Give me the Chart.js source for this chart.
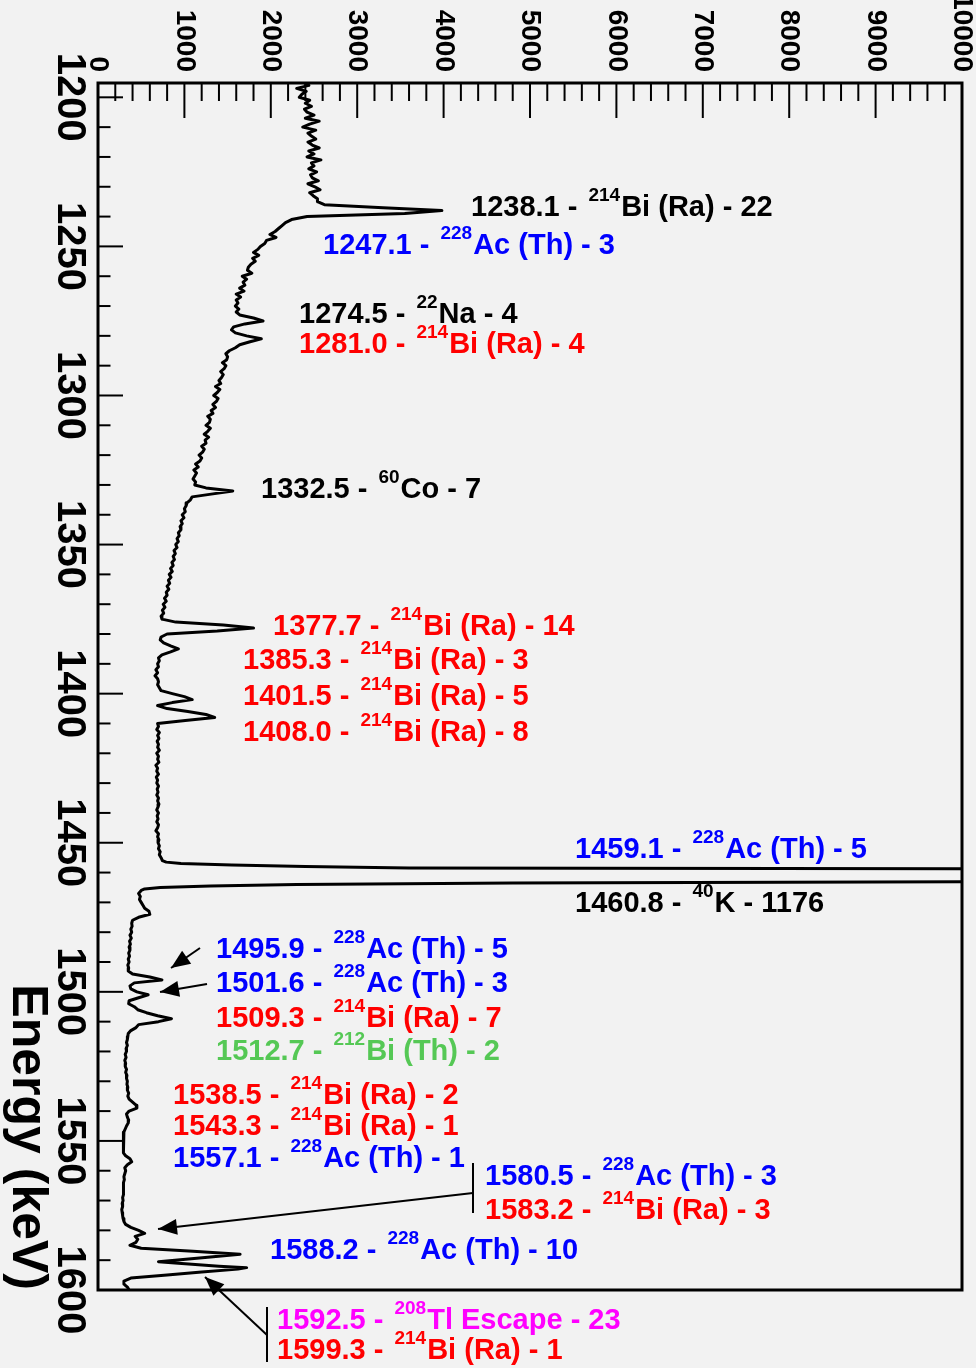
<!DOCTYPE html>
<html>
<head>
<meta charset="utf-8">
<script src="https://cdn.jsdelivr.net/npm/chart.js@4.4.0/dist/chart.umd.min.js"></script>
<style>
html,body{margin:0;padding:0;background:#f2f2f2;}
canvas{display:block;}
</style>
</head>
<body>
<canvas id="c" width="976" height="1368"></canvas>
<script>
// ---------------- DATA ----------------
const energy = [
1195,1196,1197,1198,1199,1200,1201,1202,1203,1204,
1205,1206,1207,1208,1209,1210,1211,1212,1213,1214,
1215,1216,1217,1218,1219,1220,1221,1222,1223,1224,
1225,1226,1227,1228,1229,1230,1231,1232,1233,1234,
1235,1236,1237,1238,1239,1240,1241,1242,1243,1244,
1245,1246,1247,1248,1249,1250,1251,1252,1253,1254,
1255,1256,1257,1258,1259,1260,1261,1262,1263,1264,
1265,1266,1267,1268,1269,1270,1271,1272,1273,1274,
1275,1276,1277,1278,1279,1280,1281,1282,1283,1284,
1285,1286,1287,1288,1289,1290,1291,1292,1293,1294,
1295,1296,1297,1298,1299,1300,1301,1302,1303,1304,
1305,1306,1307,1308,1309,1310,1311,1312,1313,1314,
1315,1316,1317,1318,1319,1320,1321,1322,1323,1324,
1325,1326,1327,1328,1329,1330,1331,1332,1333,1334,
1335,1336,1337,1338,1339,1340,1341,1342,1343,1344,
1345,1346,1347,1348,1349,1350,1351,1352,1353,1354,
1355,1356,1357,1358,1359,1360,1361,1362,1363,1364,
1365,1366,1367,1368,1369,1370,1371,1372,1373,1374,
1375,1376,1377,1378,1379,1380,1381,1382,1383,1384,
1385,1386,1387,1388,1389,1390,1391,1392,1393,1394,
1395,1396,1397,1398,1399,1400,1401,1402,1403,1404,
1405,1406,1407,1408,1409,1410,1411,1412,1413,1414,
1415,1416,1417,1418,1419,1420,1421,1422,1423,1424,
1425,1426,1427,1428,1429,1430,1431,1432,1433,1434,
1435,1436,1437,1438,1439,1440,1441,1442,1443,1444,
1445,1446,1447,1448,1449,1450,1451,1452,1453,1454,
1455,1456,1456.5,1457,1457.5,1458,1458.5,1459,1459.5,1460,
1460.5,1461,1461.5,1462,1462.5,1463,1463.5,1464,1464.5,1465,
1465.5,1466,1467,1468,1469,1470,1471,1472,1473,1474,
1475,1476,1477,1478,1479,1480,1481,1482,1483,1484,
1485,1486,1487,1488,1489,1490,1491,1492,1493,1494,
1495,1496,1497,1498,1499,1500,1501,1502,1503,1504,
1505,1506,1507,1508,1509,1510,1511,1512,1513,1514,
1515,1516,1517,1518,1519,1520,1521,1522,1523,1524,
1525,1526,1527,1528,1529,1530,1531,1532,1533,1534,
1535,1536,1537,1538,1539,1540,1541,1542,1543,1544,
1545,1546,1547,1548,1549,1550,1551,1552,1553,1554,
1555,1556,1557,1558,1559,1560,1561,1562,1563,1564,
1565,1566,1567,1568,1569,1570,1571,1572,1573,1574,
1575,1576,1577,1578,1579,1580,1581,1582,1583,1584,
1585,1586,1587,1588,1589,1590,1590.5,1591,1592,1592.5,
1593,1594,1595,1596,1597,1598,1599,1600
];
const counts = [
2380,2440,2300,2410,2360,2330,2450,2400,2470,2390,
2420,2500,2400,2560,2450,2370,2520,2430,2470,2520,
2430,2480,2560,2440,2500,2420,2580,2470,2500,2440,
2530,2460,2480,2550,2430,2510,2570,2450,2490,2540,
2540,2620,3300,3980,3550,2420,2240,2170,2130,2090,
2050,1990,2060,1950,1930,1880,1850,1800,1860,1790,
1820,1770,1740,1730,1780,1670,1720,1680,1700,1640,
1690,1600,1650,1600,1620,1590,1630,1600,1640,1800,
1910,1700,1570,1545,1590,1720,1890,1760,1640,1590,
1520,1480,1500,1490,1440,1480,1460,1420,1450,1430,
1400,1420,1360,1410,1380,1340,1390,1370,1330,1360,
1310,1330,1270,1300,1290,1250,1300,1270,1230,1280,
1240,1250,1200,1230,1210,1170,1200,1180,1130,1160,
1110,1140,1120,1100,1130,1120,1250,1560,1330,1090,
1070,1030,1020,1000,1010,975,995,960,975,950,
960,930,940,915,930,900,915,880,895,870,
885,855,870,840,860,825,845,815,830,800,
820,790,800,770,790,755,775,745,760,730,
740,900,1450,1800,1380,800,730,720,760,840,
930,840,740,700,710,690,700,670,690,660,
690,700,690,710,730,860,1000,1090,860,690,
800,1040,1250,1350,1010,690,700,680,710,690,
705,685,700,690,710,680,700,690,705,670,
690,680,700,675,690,680,700,685,695,680,
700,690,705,695,680,700,685,695,680,700,
690,670,700,690,705,695,710,700,720,710,
730,745,790,960,1550,2400,3600,19750,60000,200000,
400000,400000,200000,80000,30000,11300,4800,2300,1300,720,
540,500,470,490,480,500,520,540,590,600,
470,400,390,395,380,390,370,385,365,375,
360,370,355,365,350,360,345,355,350,400,
600,740,420,370,380,450,580,470,360,355,
420,460,560,690,850,700,470,440,380,350,
345,340,330,340,325,330,315,325,310,320,
315,330,320,335,330,340,335,345,340,355,
345,360,400,440,450,360,330,340,355,350,
330,315,300,295,290,300,290,295,290,300,
320,370,390,340,310,320,310,300,305,295,
300,290,300,290,285,290,280,285,275,280,
285,290,300,320,380,470,540,430,460,440,
370,500,1100,1645,1270,890,700,930,1400,1720,
1620,1200,800,380,300,300,340,360
];
const countTickLabels = ['0','1000','2000','3000','4000','5000','6000','7000','8000','9000','10000'];
const energyTickLabels = ['1200','1250','1300','1350','1400','1450','1500','1550','1600'];
const axisTitle = 'Energy (keV)';

const labelPre = ['1238.1 - ','1247.1 - ','1274.5 - ','1281.0 - ','1332.5 - ','1377.7 - ','1385.3 - ','1401.5 - ','1408.0 - ','1459.1 - ','1460.8 - ','1495.9 - ','1501.6 - ','1509.3 - ','1512.7 - ','1538.5 - ','1543.3 - ','1557.1 - ','1580.5 - ','1583.2 - ','1588.2 - ','1592.5 - ','1599.3 - '];
const labelSup = ['214','228','22','214','60','214','214','214','214','228','40','228','228','214','212','214','214','228','228','214','228','208','214'];
const labelPost = ['Bi (Ra) - 22','Ac (Th) - 3','Na - 4','Bi (Ra) - 4','Co - 7','Bi (Ra) - 14','Bi (Ra) - 3','Bi (Ra) - 5','Bi (Ra) - 8','Ac (Th) - 5','K - 1176','Ac (Th) - 5','Ac (Th) - 3','Bi (Ra) - 7','Bi (Th) - 2','Bi (Ra) - 2','Bi (Ra) - 1','Ac (Th) - 1','Ac (Th) - 3','Bi (Ra) - 3','Ac (Th) - 10','Tl Escape - 23','Bi (Ra) - 1'];

// ---------------- LAYOUT / STYLE ----------------
const BLK='#000000', BLU='#0000ff', RED='#ff0000', GRN='#55c855', MAG='#ff00ff';
const labelLayout = [
 [471,216,BLK],[323,254,BLU],[299,323,BLK],[299,353,RED],[261,498,BLK],
 [273,635,RED],[243,669,RED],[243,705,RED],[243,741,RED],[575,858,BLU],
 [575,912,BLK],[216,958,BLU],[216,992,BLU],[216,1027,RED],[216,1060,GRN],
 [173,1104,RED],[173,1135,RED],[173,1167,BLU],[485,1185,BLU],[485,1219,RED],
 [270,1259,BLU],[277,1329,MAG],[277,1359,RED]
];
const arrows = [ // [x0,y0,x1,y1] arrow ends at x1,y1
 [200,948,171,968],[207,984,160,992],[473,1193,158,1229],[267,1335,205,1277]
];
const brackets = [[473,1163,1213],[267,1307,1362]];

const FONT = '"Liberation Sans", Arial, Helvetica, sans-serif';

const points = energy.map((e,i)=>({x:counts[i], y:e}));

function arrowTo(ctx,x0,y0,x1,y1){
  ctx.beginPath(); ctx.moveTo(x0,y0); ctx.lineTo(x1,y1); ctx.stroke();
  const ang=Math.atan2(y1-y0,x1-x0), L=19, W=8;
  const bx=x1-L*Math.cos(ang), by=y1-L*Math.sin(ang);
  ctx.beginPath(); ctx.moveTo(x1,y1);
  ctx.lineTo(bx+W*Math.sin(ang), by-W*Math.cos(ang));
  ctx.lineTo(bx-W*Math.sin(ang), by+W*Math.cos(ang));
  ctx.closePath(); ctx.fill();
}

const decor = {
  id:'decor',
  afterDraw(chart){
    const {ctx, chartArea:a, scales:{x,y}} = chart;
    ctx.save();
    ctx.strokeStyle='#000'; ctx.fillStyle='#000';
    // frame
    ctx.lineWidth=3;
    ctx.strokeRect(a.left, a.top, a.right-a.left, a.bottom-a.top);
    // count-axis ticks (top)
    ctx.lineWidth=2;
    for(let v=0; v<=10000; v+=200){
      const px=x.getPixelForValue(v);
      const len=(v%1000===0)?35:18;
      ctx.beginPath(); ctx.moveTo(px,a.top); ctx.lineTo(px,a.top+len); ctx.stroke();
    }
    // energy-axis ticks (left)
    for(let e=1200; e<=1600; e+=10){
      const py=y.getPixelForValue(e);
      const len=(e%50===0)?25:12.5;
      ctx.beginPath(); ctx.moveTo(a.left,py); ctx.lineTo(a.left+len,py); ctx.stroke();
    }
    // count tick labels (rotated clockwise)
    ctx.font='bold 28px '+FONT;
    countTickLabels.forEach(t=>{
      const px=x.getPixelForValue(Number(t));
      ctx.save(); ctx.translate(px,72); ctx.rotate(Math.PI/2);
      ctx.textAlign='right'; ctx.textBaseline='middle'; ctx.fillText(t,0,0);
      ctx.restore();
    });
    // energy tick labels
    ctx.font='bold 40px '+FONT;
    energyTickLabels.forEach(t=>{
      const py=y.getPixelForValue(Number(t));
      ctx.save(); ctx.translate(58,py); ctx.rotate(Math.PI/2);
      ctx.textAlign='center'; ctx.textBaseline='alphabetic'; ctx.fillText(t,0,0);
      ctx.restore();
    });
    // axis title
    ctx.font='bold 50px '+FONT;
    ctx.save(); ctx.translate(13,y.getPixelForValue(1600)); ctx.rotate(Math.PI/2);
    ctx.textAlign='right'; ctx.textBaseline='alphabetic'; ctx.fillText(axisTitle,0,0);
    ctx.restore();
    // labels
    labelPre.forEach((pre,i)=>{
      const [lx,ly,col]=labelLayout[i];
      ctx.fillStyle=col; ctx.textAlign='left'; ctx.textBaseline='alphabetic';
      let cx=lx;
      ctx.font='bold 29px '+FONT; ctx.fillText(pre,cx,ly); cx+=ctx.measureText(pre).width+3;
      ctx.font='bold 19px '+FONT; ctx.fillText(labelSup[i],cx,ly-15); cx+=ctx.measureText(labelSup[i]).width+1;
      ctx.font='bold 29px '+FONT; ctx.fillText(labelPost[i],cx,ly);
    });
    // arrows & brackets
    ctx.fillStyle='#000'; ctx.strokeStyle='#000'; ctx.lineWidth=2;
    arrows.forEach(a2=>arrowTo(ctx,...a2));
    brackets.forEach(b=>{ctx.beginPath(); ctx.moveTo(b[0],b[1]); ctx.lineTo(b[0],b[2]); ctx.stroke();});
    ctx.restore();
  }
};

new Chart(document.getElementById('c'),{
  type:'scatter',
  data:{datasets:[{
    data:points, showLine:true, borderColor:'#000', borderWidth:3,
    pointRadius:0, tension:0, borderJoinStyle:'round'
  }]},
  options:{
    responsive:false, devicePixelRatio:1, animation:false, events:[],
    layout:{padding:{left:98, top:83, right:14, bottom:78}},
    plugins:{legend:{display:false}, tooltip:{enabled:false}},
    scales:{
      x:{type:'linear', min:0, max:10000, display:false},
      y:{type:'linear', min:1195.2, max:1600, reverse:true, display:false}
    }
  },
  plugins:[decor]
});
</script>
</body>
</html>
